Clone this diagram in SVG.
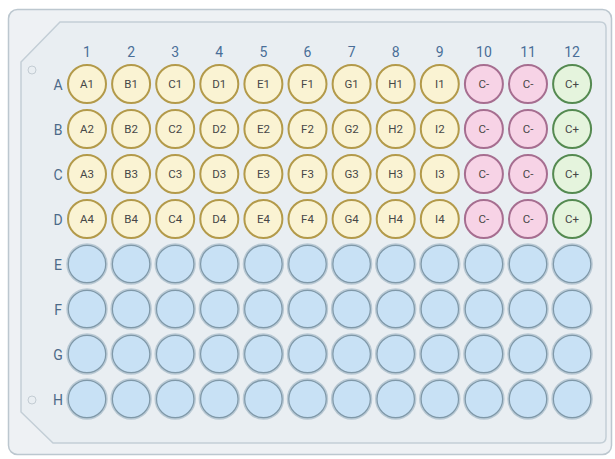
<svg xmlns="http://www.w3.org/2000/svg" width="615" height="459" viewBox="0 0 615 459">
<style>
text{font-family:"Roboto","Liberation Sans",sans-serif;}
.col{font-size:14px;fill:#4a6e98;text-anchor:middle;}
.row{font-size:14px;fill:#4d6a88;text-anchor:middle;dominant-baseline:central;}
.lbl{font-size:11.5px;fill:#474747;text-anchor:middle;dominant-baseline:central;}
.y{fill:#faf3d3;stroke:#b39a4a;stroke-width:2;}
.p{fill:#f7d3e6;stroke:#a66e90;stroke-width:2;}
.g{fill:#e5f4dd;stroke:#558a51;stroke-width:2;}
.bh{fill:none;stroke:#b9c9d4;stroke-width:3;}
.b{fill:#c8e1f5;stroke:#7f98a8;stroke-width:1.2;}
.hole{fill:none;stroke:#c3ccd3;stroke-width:1;}
</style>
<defs>
<circle id="yw" class="y" r="19"/>
<circle id="pw" class="p" r="19"/>
<circle id="gw" class="g" r="19"/>
<g id="bw"><circle class="bh" r="19.2"/><circle class="b" r="18.7"/></g>
</defs>
<g id="plate">
<rect x="8.5" y="9.5" width="603" height="445" rx="9" fill="#eef1f4" stroke="#bcc7cf" stroke-width="1.5"/>
<path d="M60,22 L600,22 Q606,22 606,28 L606,437 Q606,443 600,443 L53,443 L21,412 L21,62 Z" fill="#e9eef2" stroke="#c3ced6" stroke-width="1.5"/>
<circle class="hole" cx="32" cy="70" r="4"/>
<circle class="hole" cx="32" cy="400" r="4"/>
</g>
<g id="column-labels">
<text class="col" x="87" y="57">1</text>
<text class="col" x="131.1" y="57">2</text>
<text class="col" x="175.2" y="57">3</text>
<text class="col" x="219.3" y="57">4</text>
<text class="col" x="263.4" y="57">5</text>
<text class="col" x="307.5" y="57">6</text>
<text class="col" x="351.6" y="57">7</text>
<text class="col" x="395.7" y="57">8</text>
<text class="col" x="439.8" y="57">9</text>
<text class="col" x="483.9" y="57">10</text>
<text class="col" x="528" y="57">11</text>
<text class="col" x="572.1" y="57">12</text>
</g>
<g id="row-labels">
<text class="row" x="58" y="85">A</text>
<text class="row" x="58" y="130">B</text>
<text class="row" x="58" y="175">C</text>
<text class="row" x="58" y="220">D</text>
<text class="row" x="58" y="265">E</text>
<text class="row" x="58" y="310">F</text>
<text class="row" x="58" y="355">G</text>
<text class="row" x="58" y="400">H</text>
</g>
<g id="wells-labeled">
<g id="A1"><use href="#yw" x="87" y="84"/><text class="lbl" x="87" y="84">A1</text></g>
<g id="B1"><use href="#yw" x="131.1" y="84"/><text class="lbl" x="131.1" y="84">B1</text></g>
<g id="C1"><use href="#yw" x="175.2" y="84"/><text class="lbl" x="175.2" y="84">C1</text></g>
<g id="D1"><use href="#yw" x="219.3" y="84"/><text class="lbl" x="219.3" y="84">D1</text></g>
<g id="E1"><use href="#yw" x="263.4" y="84"/><text class="lbl" x="263.4" y="84">E1</text></g>
<g id="F1"><use href="#yw" x="307.5" y="84"/><text class="lbl" x="307.5" y="84">F1</text></g>
<g id="G1"><use href="#yw" x="351.6" y="84"/><text class="lbl" x="351.6" y="84">G1</text></g>
<g id="H1"><use href="#yw" x="395.7" y="84"/><text class="lbl" x="395.7" y="84">H1</text></g>
<g id="I1"><use href="#yw" x="439.8" y="84"/><text class="lbl" x="439.8" y="84">I1</text></g>
<g id="neg-A10"><use href="#pw" x="483.9" y="84"/><text class="lbl" x="483.9" y="84">C-</text></g>
<g id="neg-A11"><use href="#pw" x="528" y="84"/><text class="lbl" x="528" y="84">C-</text></g>
<g id="pos-A12"><use href="#gw" x="572.1" y="84"/><text class="lbl" x="572.1" y="84">C+</text></g>

<g id="A2"><use href="#yw" x="87" y="129"/><text class="lbl" x="87" y="129">A2</text></g>
<g id="B2"><use href="#yw" x="131.1" y="129"/><text class="lbl" x="131.1" y="129">B2</text></g>
<g id="C2"><use href="#yw" x="175.2" y="129"/><text class="lbl" x="175.2" y="129">C2</text></g>
<g id="D2"><use href="#yw" x="219.3" y="129"/><text class="lbl" x="219.3" y="129">D2</text></g>
<g id="E2"><use href="#yw" x="263.4" y="129"/><text class="lbl" x="263.4" y="129">E2</text></g>
<g id="F2"><use href="#yw" x="307.5" y="129"/><text class="lbl" x="307.5" y="129">F2</text></g>
<g id="G2"><use href="#yw" x="351.6" y="129"/><text class="lbl" x="351.6" y="129">G2</text></g>
<g id="H2"><use href="#yw" x="395.7" y="129"/><text class="lbl" x="395.7" y="129">H2</text></g>
<g id="I2"><use href="#yw" x="439.8" y="129"/><text class="lbl" x="439.8" y="129">I2</text></g>
<g id="neg-B10"><use href="#pw" x="483.9" y="129"/><text class="lbl" x="483.9" y="129">C-</text></g>
<g id="neg-B11"><use href="#pw" x="528" y="129"/><text class="lbl" x="528" y="129">C-</text></g>
<g id="pos-B12"><use href="#gw" x="572.1" y="129"/><text class="lbl" x="572.1" y="129">C+</text></g>

<g id="A3"><use href="#yw" x="87" y="174"/><text class="lbl" x="87" y="174">A3</text></g>
<g id="B3"><use href="#yw" x="131.1" y="174"/><text class="lbl" x="131.1" y="174">B3</text></g>
<g id="C3"><use href="#yw" x="175.2" y="174"/><text class="lbl" x="175.2" y="174">C3</text></g>
<g id="D3"><use href="#yw" x="219.3" y="174"/><text class="lbl" x="219.3" y="174">D3</text></g>
<g id="E3"><use href="#yw" x="263.4" y="174"/><text class="lbl" x="263.4" y="174">E3</text></g>
<g id="F3"><use href="#yw" x="307.5" y="174"/><text class="lbl" x="307.5" y="174">F3</text></g>
<g id="G3"><use href="#yw" x="351.6" y="174"/><text class="lbl" x="351.6" y="174">G3</text></g>
<g id="H3"><use href="#yw" x="395.7" y="174"/><text class="lbl" x="395.7" y="174">H3</text></g>
<g id="I3"><use href="#yw" x="439.8" y="174"/><text class="lbl" x="439.8" y="174">I3</text></g>
<g id="neg-C10"><use href="#pw" x="483.9" y="174"/><text class="lbl" x="483.9" y="174">C-</text></g>
<g id="neg-C11"><use href="#pw" x="528" y="174"/><text class="lbl" x="528" y="174">C-</text></g>
<g id="pos-C12"><use href="#gw" x="572.1" y="174"/><text class="lbl" x="572.1" y="174">C+</text></g>

<g id="A4"><use href="#yw" x="87" y="219"/><text class="lbl" x="87" y="219">A4</text></g>
<g id="B4"><use href="#yw" x="131.1" y="219"/><text class="lbl" x="131.1" y="219">B4</text></g>
<g id="C4"><use href="#yw" x="175.2" y="219"/><text class="lbl" x="175.2" y="219">C4</text></g>
<g id="D4"><use href="#yw" x="219.3" y="219"/><text class="lbl" x="219.3" y="219">D4</text></g>
<g id="E4"><use href="#yw" x="263.4" y="219"/><text class="lbl" x="263.4" y="219">E4</text></g>
<g id="F4"><use href="#yw" x="307.5" y="219"/><text class="lbl" x="307.5" y="219">F4</text></g>
<g id="G4"><use href="#yw" x="351.6" y="219"/><text class="lbl" x="351.6" y="219">G4</text></g>
<g id="H4"><use href="#yw" x="395.7" y="219"/><text class="lbl" x="395.7" y="219">H4</text></g>
<g id="I4"><use href="#yw" x="439.8" y="219"/><text class="lbl" x="439.8" y="219">I4</text></g>
<g id="neg-D10"><use href="#pw" x="483.9" y="219"/><text class="lbl" x="483.9" y="219">C-</text></g>
<g id="neg-D11"><use href="#pw" x="528" y="219"/><text class="lbl" x="528" y="219">C-</text></g>
<g id="pos-D12"><use href="#gw" x="572.1" y="219"/><text class="lbl" x="572.1" y="219">C+</text></g>
</g>
<g id="wells-empty">
<g id="row-E">
<use href="#bw" x="87" y="264"/><use href="#bw" x="131.1" y="264"/><use href="#bw" x="175.2" y="264"/><use href="#bw" x="219.3" y="264"/><use href="#bw" x="263.4" y="264"/><use href="#bw" x="307.5" y="264"/><use href="#bw" x="351.6" y="264"/><use href="#bw" x="395.7" y="264"/><use href="#bw" x="439.8" y="264"/><use href="#bw" x="483.9" y="264"/><use href="#bw" x="528" y="264"/><use href="#bw" x="572.1" y="264"/>
</g>
<g id="row-F">
<use href="#bw" x="87" y="309"/><use href="#bw" x="131.1" y="309"/><use href="#bw" x="175.2" y="309"/><use href="#bw" x="219.3" y="309"/><use href="#bw" x="263.4" y="309"/><use href="#bw" x="307.5" y="309"/><use href="#bw" x="351.6" y="309"/><use href="#bw" x="395.7" y="309"/><use href="#bw" x="439.8" y="309"/><use href="#bw" x="483.9" y="309"/><use href="#bw" x="528" y="309"/><use href="#bw" x="572.1" y="309"/>
</g>
<g id="row-G">
<use href="#bw" x="87" y="354"/><use href="#bw" x="131.1" y="354"/><use href="#bw" x="175.2" y="354"/><use href="#bw" x="219.3" y="354"/><use href="#bw" x="263.4" y="354"/><use href="#bw" x="307.5" y="354"/><use href="#bw" x="351.6" y="354"/><use href="#bw" x="395.7" y="354"/><use href="#bw" x="439.8" y="354"/><use href="#bw" x="483.9" y="354"/><use href="#bw" x="528" y="354"/><use href="#bw" x="572.1" y="354"/>
</g>
<g id="row-H">
<use href="#bw" x="87" y="399"/><use href="#bw" x="131.1" y="399"/><use href="#bw" x="175.2" y="399"/><use href="#bw" x="219.3" y="399"/><use href="#bw" x="263.4" y="399"/><use href="#bw" x="307.5" y="399"/><use href="#bw" x="351.6" y="399"/><use href="#bw" x="395.7" y="399"/><use href="#bw" x="439.8" y="399"/><use href="#bw" x="483.9" y="399"/><use href="#bw" x="528" y="399"/><use href="#bw" x="572.1" y="399"/>
</g>
</g>
<g id="connectors"/>
</svg>
